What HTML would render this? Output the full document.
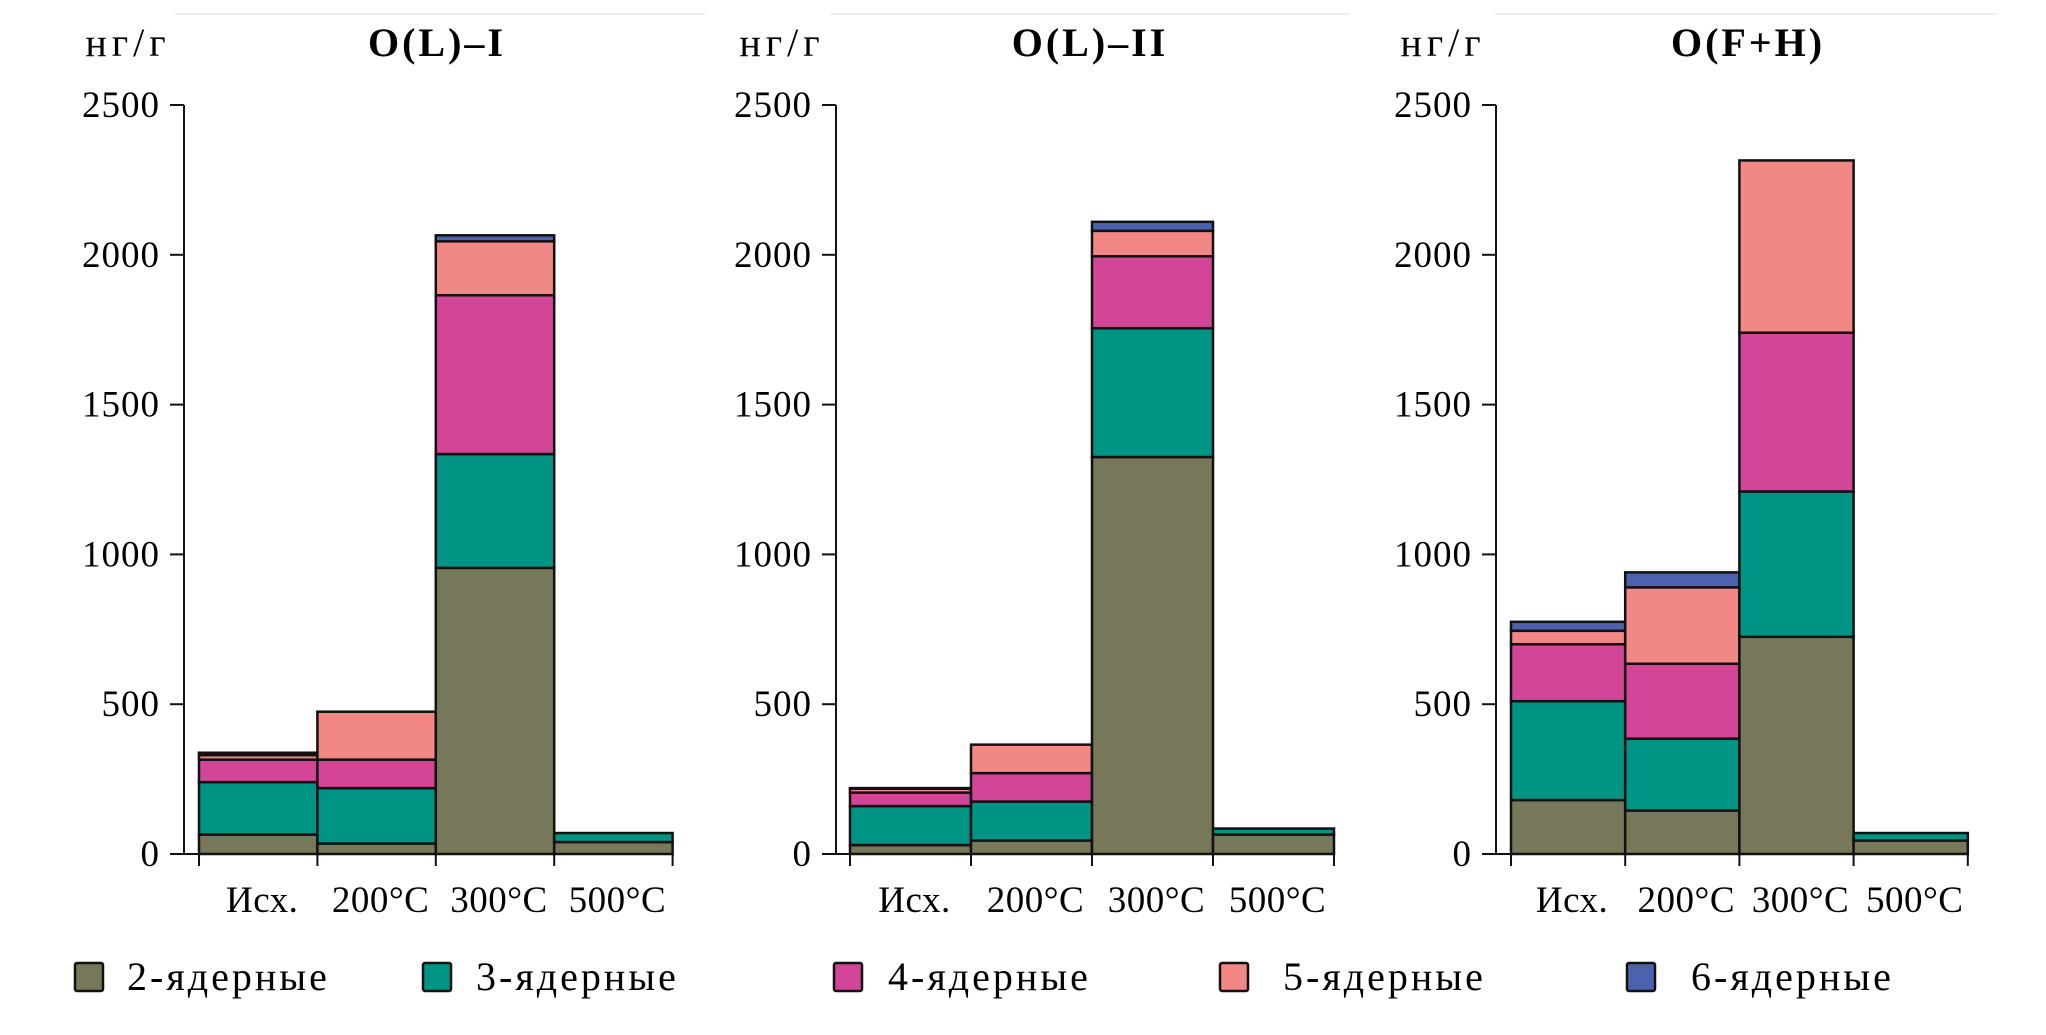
<!DOCTYPE html>
<html><head><meta charset="utf-8">
<style>
html,body{margin:0;padding:0;background:#fff;}
svg{display:block;font-family:"Liberation Serif","DejaVu Serif",serif;}
</style></head>
<body>
<svg id="fig" width="2046" height="1035" viewBox="0 0 2046 1035" xmlns="http://www.w3.org/2000/svg">
</svg>
<script>
const categories = ["Исх.", "200°C", "300°C", "500°C"];
const seriesNames = ["2-ядерные", "3-ядерные", "4-ядерные", "5-ядерные", "6-ядерные"];
const yTicks = [0, 500, 1000, 1500, 2000, 2500];
const panelTitles = ["O(L)–I", "O(L)–II", "O(F+H)"];
// values per panel: [series][category]
const p1_s2 = [65, 35, 955, 40];
const p1_s3 = [175, 185, 380, 30];
const p1_s4 = [75, 95, 530, 0];
const p1_s5 = [15, 160, 180, 0];
const p1_s6 = [8, 0, 20, 0];
const p2_s2 = [30, 45, 1325, 65];
const p2_s3 = [130, 130, 430, 20];
const p2_s4 = [45, 95, 240, 0];
const p2_s5 = [13, 95, 85, 0];
const p2_s6 = [2, 0, 30, 0];
const p3_s2 = [180, 145, 725, 45];
const p3_s3 = [330, 240, 485, 25];
const p3_s4 = [190, 250, 530, 0];
const p3_s5 = [45, 255, 575, 0];
const p3_s6 = [30, 50, 0, 0];
const panelData = [[p1_s2,p1_s3,p1_s4,p1_s5,p1_s6],[p2_s2,p2_s3,p2_s4,p2_s5,p2_s6],[p3_s2,p3_s3,p3_s4,p3_s5,p3_s6]];

const colors = ["#77775a", "#009485", "#d34596", "#f28886", "#4c62ad"];
const NS = "http://www.w3.org/2000/svg";
const svg = document.getElementById("fig");
function mk(tag, attrs, parent){const e=document.createElementNS(NS,tag);for(const k in attrs)e.setAttribute(k,attrs[k]);(parent||svg).appendChild(e);return e;}

const y0 = 854, yTop = 105, yMax = 2500;
function yScale(v){return y0 - (v / yMax) * (y0 - yTop);}
const panels = [
  {axisX:184, barX0:199, barW:118.4, titleX:437, unitX:128, topLine:[175,705]},
  {axisX:836, barX0:850, barW:121.0, titleX:1090, unitX:782, topLine:[830,1350]},
  {axisX:1496, barX0:1511, barW:114.2, titleX:1748, unitX:1443, topLine:[1495,1995]}
];

panels.forEach((p, pi) => {
  const g = mk("g", {});
  
  
  const tl = mk("line", {x1:p.topLine[0], x2:p.topLine[1], y1:14, y2:14, stroke:"#eeeeee", "stroke-width":2}, g);
  
  
  const t = mk("text", {x:p.titleX, y:56, "font-size":40, "font-weight":"bold", "letter-spacing":"3", "text-anchor":"middle"}, g);
  t.textContent = panelTitles[pi];
  
  
  const u = mk("text", {x:p.unitX, y:56, "font-size":40, "letter-spacing":"5", "text-anchor":"middle"}, g);
  u.textContent = "нг/г";
  
  
  const ya = mk("line", {x1:p.axisX, x2:p.axisX, y1:yTop, y2:y0, stroke:"#111", "stroke-width":2}, g);
  
  
  yTicks.forEach(v => {
    const yy = yScale(v);
    const tk = mk("line", {x1:p.axisX-14, x2:p.axisX, y1:yy, y2:yy, stroke:"#111", "stroke-width":2}, g);
    
    
    const lb = mk("text", {x:p.axisX-24, y:yy+12, "font-size":37, "letter-spacing":"1", "text-anchor":"end"}, g);
    lb.textContent = v;
    
    
  });
  const xEnd = p.barX0 + p.barW * categories.length;
  const xa = mk("line", {x1:p.axisX-14, x2:xEnd, y1:y0, y2:y0, stroke:"#111", "stroke-width":2}, g);
  
  
  for (let i = 0; i <= categories.length; i++) {
    const xx = p.barX0 + p.barW * i;
    const tk = mk("line", {x1:xx, x2:xx, y1:y0, y2:y0+12, stroke:"#111", "stroke-width":2}, g);
    
    
  }
  const data = panelData[pi];
  categories.forEach((c, ci) => {
    let cum = 0;
    const x = p.barX0 + p.barW * ci;
    data.forEach((s, si) => {
      const v = s[ci];
      if (v <= 0) return;
      const yA = yScale(cum), yB = yScale(cum + v);
      const r = mk("rect", {x:x, y:yB, width:p.barW, height:yA-yB, fill:colors[si], stroke:"#111", "stroke-width":2.5}, g);
      
      
      cum += v;
    });
    const lb = mk("text", {x:x + p.barW/2 + 4, y:912, "font-size":37, "letter-spacing":"0.5", "text-anchor":"middle"}, g);
    lb.textContent = c;
    
    
  });
});

const legX = [75, 423, 834, 1220, 1627];
const legTextX = [127, 476, 888, 1283, 1691];
seriesNames.forEach((n, i) => {
  const g = mk("g", {});
  
  
  const r = mk("rect", {x:legX[i], y:963, width:28, height:28, fill:colors[i], stroke:"#111", "stroke-width":2.5, rx:2}, g);
  
  
  const t = mk("text", {x:legTextX[i], y:990, "font-size":40, "letter-spacing":"3"}, g);
  t.textContent = n;
  
  
});
</script>
</body></html>
